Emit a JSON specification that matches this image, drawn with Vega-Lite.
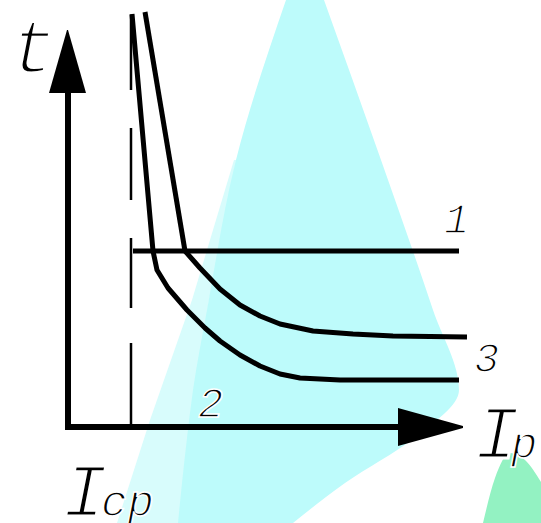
{
  "$schema": "https://vega.github.io/schema/vega-lite/v6.json",
  "width": 541,
  "height": 523,
  "autosize": "none",
  "padding": 0,
  "background": "white",
  "config": {"view": {"stroke": null}},
  "datasets": {
    "strip": [
      {"y": 160, "xl": 234, "xr": 240},
      {"y": 300, "xl": 192, "xr": 209},
      {"y": 420, "xl": 150, "xr": 192},
      {"y": 523, "xl": 117, "xr": 180}
    ],
    "cyan": [
      {"y": 0, "xl": 286, "xr": 324},
      {"y": 160, "xl": 236, "xr": 381},
      {"y": 310, "xl": 207, "xr": 433},
      {"y": 390, "xl": 193, "xr": 459},
      {"y": 438, "xl": 187, "xr": 414},
      {"y": 483, "xl": 182, "xr": 345},
      {"y": 523, "xl": 178, "xr": 293}
    ],
    "green": [
      {"x": 483, "yt": 523, "yb": 523},
      {"x": 495, "yt": 478, "yb": 523},
      {"x": 510, "yt": 453, "yb": 523},
      {"x": 525, "yt": 460, "yb": 523},
      {"x": 541, "yt": 482, "yb": 523}
    ],
    "axes": [
      {"x": 68, "y": 430, "x2": 68, "y2": 90},
      {"x": 65, "y": 427, "x2": 400, "y2": 427}
    ],
    "yarrow": [
      {"y": 30, "xl": 67, "xr": 68},
      {"y": 93, "xl": 49, "xr": 86}
    ],
    "xarrow": [
      {"x": 398, "yt": 408, "yb": 446},
      {"x": 463, "yt": 426, "yb": 428}
    ],
    "dash": [
      {"x": 131, "y": 15, "y2": 90},
      {"x": 131, "y": 128, "y2": 200},
      {"x": 131, "y": 238, "y2": 308},
      {"x": 131, "y": 343, "y2": 427}
    ],
    "curves": [
      {"c": "1a", "i": 0, "x": 145, "y": 12},
      {"c": "1a", "i": 1, "x": 185, "y": 251},
      {"c": "1b", "i": 0, "x": 133, "y": 251},
      {"c": "1b", "i": 1, "x": 459, "y": 251},
      {"c": "2", "i": 0, "x": 132, "y": 14},
      {"c": "2", "i": 1, "x": 153, "y": 251},
      {"c": "2", "i": 2, "x": 157, "y": 270},
      {"c": "2", "i": 3, "x": 168, "y": 288},
      {"c": "2", "i": 4, "x": 187, "y": 310},
      {"c": "2", "i": 5, "x": 205, "y": 328},
      {"c": "2", "i": 6, "x": 220, "y": 341},
      {"c": "2", "i": 7, "x": 240, "y": 355},
      {"c": "2", "i": 8, "x": 260, "y": 366},
      {"c": "2", "i": 9, "x": 280, "y": 374},
      {"c": "2", "i": 10, "x": 300, "y": 378},
      {"c": "2", "i": 11, "x": 340, "y": 380},
      {"c": "2", "i": 12, "x": 459, "y": 380},
      {"c": "3", "i": 0, "x": 185, "y": 251},
      {"c": "3", "i": 1, "x": 200, "y": 268},
      {"c": "3", "i": 2, "x": 220, "y": 289},
      {"c": "3", "i": 3, "x": 240, "y": 305},
      {"c": "3", "i": 4, "x": 260, "y": 316},
      {"c": "3", "i": 5, "x": 280, "y": 324},
      {"c": "3", "i": 6, "x": 313, "y": 331},
      {"c": "3", "i": 7, "x": 353, "y": 334},
      {"c": "3", "i": 8, "x": 393, "y": 336},
      {"c": "3", "i": 9, "x": 467, "y": 337}
    ],
    "bigLetters": [
      {"t": "t", "x": 10, "y": 72},
      {"t": "I", "x": 474, "y": 458},
      {"t": "I", "x": 62, "y": 516}
    ],
    "subs": [
      {"t": "р", "x": 511, "y": 458},
      {"t": "ср", "x": 101, "y": 516}
    ],
    "nums": [
      {"t": "1", "x": 444, "y": 233},
      {"t": "3", "x": 474, "y": 372},
      {"t": "2", "x": 198, "y": 417}
    ]
  },
  "layer": [
    {
      "data": {"name": "strip"},
      "mark": {"type": "area", "orient": "horizontal", "color": "#d8fcfc"},
      "encoding": {
        "y": {"field": "y", "type": "quantitative", "scale": {"domain": [0, 523], "reverse": true, "nice": false, "zero": false}, "axis": null},
        "x": {"field": "xl", "type": "quantitative", "scale": {"domain": [0, 541], "nice": false, "zero": false}, "axis": null},
        "x2": {"field": "xr"}
      }
    },
    {
      "data": {"name": "cyan"},
      "mark": {"type": "area", "orient": "horizontal", "color": "#bdfbfb", "interpolate": "monotone"},
      "encoding": {
        "y": {"field": "y", "type": "quantitative"},
        "x": {"field": "xl", "type": "quantitative"},
        "x2": {"field": "xr"}
      }
    },
    {
      "data": {"name": "green"},
      "mark": {"type": "area", "orient": "vertical", "color": "#93f2c2", "interpolate": "monotone"},
      "encoding": {
        "x": {"field": "x", "type": "quantitative"},
        "y": {"field": "yt", "type": "quantitative"},
        "y2": {"field": "yb"}
      }
    },
    {
      "data": {"name": "axes"},
      "mark": {"type": "rule", "color": "black", "strokeWidth": 6},
      "encoding": {
        "x": {"field": "x", "type": "quantitative"},
        "y": {"field": "y", "type": "quantitative"},
        "x2": {"field": "x2"},
        "y2": {"field": "y2"}
      }
    },
    {
      "data": {"name": "yarrow"},
      "mark": {"type": "area", "orient": "horizontal", "color": "black"},
      "encoding": {
        "y": {"field": "y", "type": "quantitative"},
        "x": {"field": "xl", "type": "quantitative"},
        "x2": {"field": "xr"}
      }
    },
    {
      "data": {"name": "xarrow"},
      "mark": {"type": "area", "orient": "vertical", "color": "black"},
      "encoding": {
        "x": {"field": "x", "type": "quantitative"},
        "y": {"field": "yt", "type": "quantitative"},
        "y2": {"field": "yb"}
      }
    },
    {
      "data": {"name": "dash"},
      "mark": {"type": "rule", "color": "black", "strokeWidth": 2.5},
      "encoding": {
        "x": {"field": "x", "type": "quantitative"},
        "y": {"field": "y", "type": "quantitative"},
        "y2": {"field": "y2"}
      }
    },
    {
      "data": {"name": "curves"},
      "mark": {"type": "line", "color": "black", "strokeJoin": "round"},
      "encoding": {
        "x": {"field": "x", "type": "quantitative"},
        "y": {"field": "y", "type": "quantitative"},
        "detail": {"field": "c"},
        "strokeWidth": {"field": "c", "type": "nominal", "scale": {"domain": ["1a", "1b", "2", "3"], "range": [5, 5, 5, 3.5]}, "legend": null},
        "order": {"field": "i", "type": "quantitative"}
      }
    },
    {
      "data": {"name": "bigLetters"},
      "mark": {"type": "text", "align": "left", "baseline": "alphabetic", "font": "Liberation Mono", "fontStyle": "italic", "fontSize": 76, "fontWeight": "normal", "color": "black", "stroke": "white", "strokeWidth": 3},
      "encoding": {
        "x": {"field": "x", "type": "quantitative"},
        "y": {"field": "y", "type": "quantitative"},
        "text": {"field": "t"}
      }
    },
    {
      "data": {"name": "subs"},
      "mark": {"type": "text", "align": "left", "baseline": "alphabetic", "font": "Liberation Mono", "fontStyle": "italic", "fontSize": 44, "letterSpacing": -4, "color": "black", "stroke": "white", "strokeWidth": 1.5},
      "encoding": {
        "x": {"field": "x", "type": "quantitative"},
        "y": {"field": "y", "type": "quantitative"},
        "text": {"field": "t"}
      }
    },
    {
      "data": {"name": "nums"},
      "mark": {"type": "text", "align": "left", "baseline": "alphabetic", "font": "Liberation Mono", "fontStyle": "italic", "fontSize": 42, "color": "black", "stroke": "white", "strokeWidth": 1.5},
      "encoding": {
        "x": {"field": "x", "type": "quantitative"},
        "y": {"field": "y", "type": "quantitative"},
        "text": {"field": "t"}
      }
    }
  ]
}
